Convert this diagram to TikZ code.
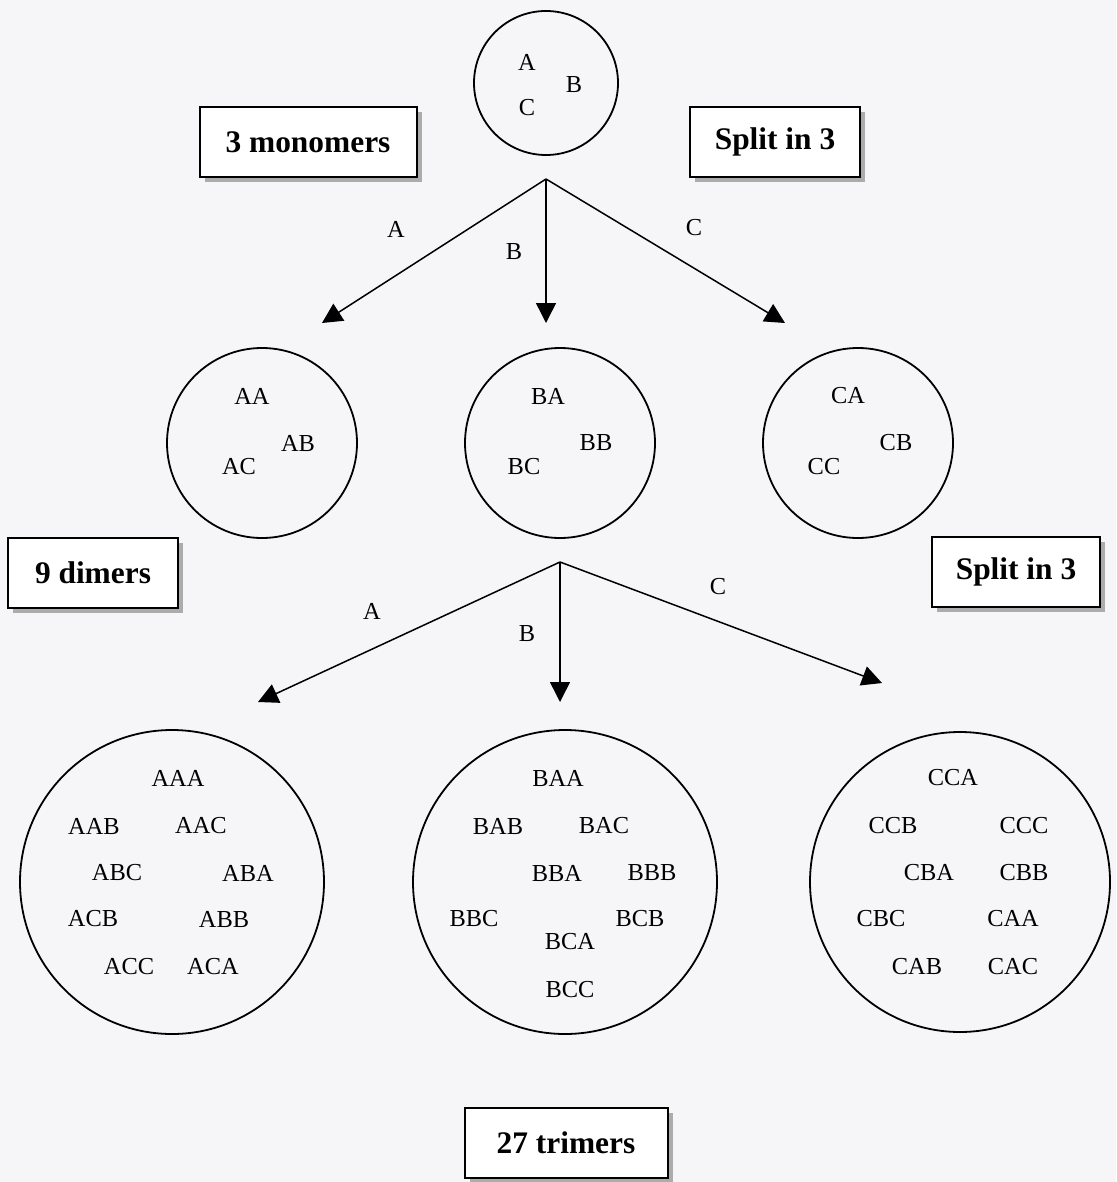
\documentclass[tikz,border=0pt]{standalone}
\usepackage{fontspec}
\setmainfont{Liberation Serif}
\usetikzlibrary{arrows.meta,shadows}
\definecolor{paper}{RGB}{246,246,248}
\begin{document}
\begin{tikzpicture}[x=0.5pt,y=-0.5pt,>={Triangle[length=10pt,width=10pt]},
  pool/.style={draw,circle,line width=0.9pt,inner sep=0pt},
  tag/.style={draw,line width=1pt,fill=white,minimum height=35pt,inner sep=0pt,
    font=\fontsize{15.7}{18}\selectfont\bfseries,
    drop shadow={shadow xshift=2.5pt,shadow yshift=-2.5pt,fill=gray!65,opacity=1}},
  seq/.style={font=\fontsize{12.2}{14}\selectfont,inner sep=0pt},
  branch/.style={->,line width=0.75pt}]
\fill[paper] (0,0) rectangle (1116,1182);
\useasboundingbox (0,0) rectangle (1116,1182);
% monomers
\node[pool, minimum size=72pt] (mono) at (546,83) {};
\node[seq] (ma) at (527,62) {A};
\node[seq] (mb) at (574,85) {B};
\node[seq] (mc) at (527,108) {C};
\node[tag, minimum width=108.5pt] (lmono) at (308,142) {3 monomers};
\node[tag, minimum width=85pt] (lsplit1) at (775,142) {Split in 3};
% first split
\coordinate (top1) at (546,179);
\coordinate (tipA) at (322,323);
\coordinate (tipB) at (546,323);
\coordinate (tipC) at (785,323);
\draw[branch] (top1) -- (tipA);
\draw[branch] (top1) -- (tipB);
\draw[branch] (top1) -- (tipC);
\node[seq] (bA) at (396,229) {A};
\node[seq] (bB) at (514,252) {B};
\node[seq] (bC) at (694,228) {C};
% dimers
\node[pool, minimum size=95pt] (diA) at (262,443) {};
\node[pool, minimum size=95pt] (diB) at (560,443) {};
\node[pool, minimum size=95pt] (diC) at (858,443) {};
\node[seq] (daa) at (252,396) {AA};
\node[seq] (dab) at (298,443) {AB};
\node[seq] (dac) at (239,467) {AC};
\node[seq] (dba) at (548,396) {BA};
\node[seq] (dbb) at (596,443) {BB};
\node[seq] (dbc) at (524,467) {BC};
\node[seq] (dca) at (848,396) {CA};
\node[seq] (dcb) at (896,443) {CB};
\node[seq] (dcc) at (824,467) {CC};
\node[tag, minimum width=85pt] (ldi) at (93,573) {9 dimers};
\node[tag, minimum width=84pt] (lsplit2) at (1016,572) {Split in 3};
% second split
\coordinate (top2) at (560,562);
\coordinate (tipAA) at (258,702);
\coordinate (tipBB) at (560,702);
\coordinate (tipCC) at (882,683);
\draw[branch] (top2) -- (tipAA);
\draw[branch] (top2) -- (tipBB);
\draw[branch] (top2) -- (tipCC);
\node[seq] (cA) at (372,611) {A};
\node[seq] (cB) at (527,634) {B};
\node[seq] (cC) at (718,587) {C};
% trimers
\node[pool, minimum size=152pt] (triA) at (172,882) {};
\node[pool, minimum size=152pt] (triB) at (565,882) {};
\node[pool, minimum size=150pt] (triC) at (960,882) {};
\node[seq] (taaa) at (178,778) {AAA};
\node[seq] (taab) at (94,826) {AAB};
\node[seq] (taac) at (201,826) {AAC};
\node[seq] (tabc) at (117,873) {ABC};
\node[seq] (taba) at (248,873) {ABA};
\node[seq] (tacb) at (93,919) {ACB};
\node[seq] (tabb) at (224,919) {ABB};
\node[seq] (tacc) at (129,967) {ACC};
\node[seq] (taca) at (213,967) {ACA};
\node[seq] (tbaa) at (558,778) {BAA};
\node[seq] (tbab) at (498,826) {BAB};
\node[seq] (tbac) at (604,826) {BAC};
\node[seq] (tbba) at (557,873) {BBA};
\node[seq] (tbbb) at (652,873) {BBB};
\node[seq] (tbbc) at (474,919) {BBC};
\node[seq] (tbcb) at (640,919) {BCB};
\node[seq] (tbca) at (570,942) {BCA};
\node[seq] (tbcc) at (570,990) {BCC};
\node[seq] (tcca) at (953,778) {CCA};
\node[seq] (tccb) at (893,826) {CCB};
\node[seq] (tccc) at (1024,826) {CCC};
\node[seq] (tcba) at (929,873) {CBA};
\node[seq] (tcbb) at (1024,873) {CBB};
\node[seq] (tcbc) at (881,919) {CBC};
\node[seq] (tcaa) at (1013,919) {CAA};
\node[seq] (tcab) at (917,967) {CAB};
\node[seq] (tcac) at (1013,967) {CAC};
\node[tag, minimum width=101.5pt] (ltri) at (566,1143) {27 trimers};
\end{tikzpicture}
\end{document}
